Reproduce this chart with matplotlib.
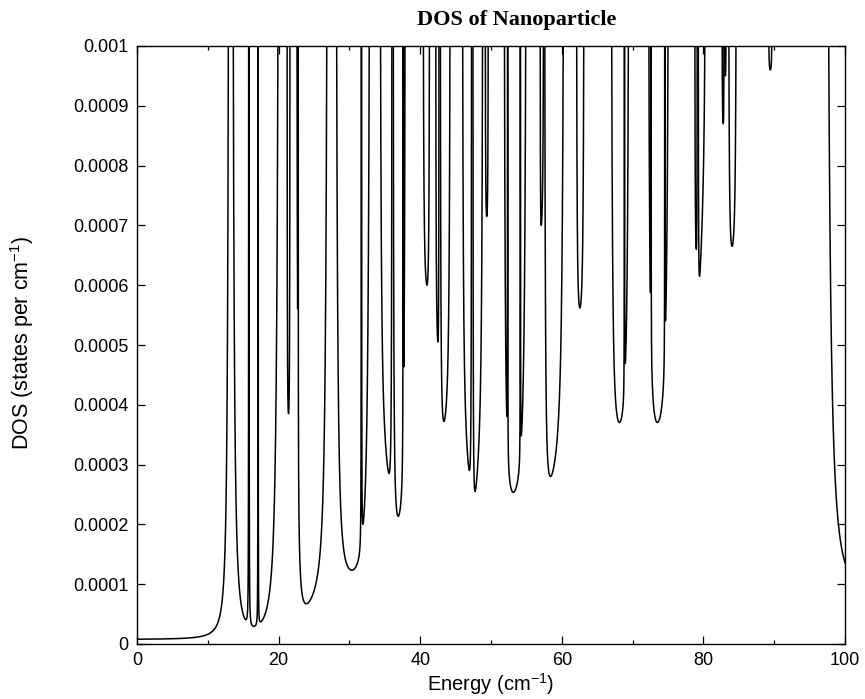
import numpy as np
import matplotlib
matplotlib.use('Agg')
import matplotlib.pyplot as plt

plt.rcParams['font.family'] = ['Liberation Sans', 'DejaVu Sans']
plt.rcParams['mathtext.default'] = 'regular'

# ---------------- data ----------------
TOP = 0.001                       # upper limit of the plot (curve is clipped there)
# each dip of the DOS below the 0.001 line: left crossing, position of minimum, minimum value, right crossing
well_left  = [13.6, 21.2, 22.6, 28.2, 34.4, 36.2, 40.45, 42.2, 42.85, 46.0, 47.45, 49.2, 51.9,
              56.95, 57.6, 62.1, 67.05, 72.3, 78.8, 79.28, 82.65, 83.02, 83.6, 89.25]
well_min   = [16.4, 21.4, 23.9, 30.35, 35.6, 36.9, 40.95, 42.5, 43.35, 46.95, 47.75, 49.4, 53.15,
              57.1, 58.4, 62.55, 68.15, 73.5, 79.0, 79.45, 82.8, 83.1, 84.05, 89.45]
well_floor = [2.7e-5, 3.85e-4, 6.7e-5, 1.23e-4, 2.85e-4, 2.13e-4, 6.0e-4, 5.05e-4, 3.72e-4, 2.9e-4,
              2.55e-4, 7.15e-4, 2.53e-4, 7.0e-4, 2.8e-4, 5.62e-4, 3.7e-4, 3.7e-4, 6.6e-4, 6.15e-4,
              8.7e-4, 9.5e-4, 6.65e-4, 9.6e-4]
well_right = [19.9, 21.6, 26.8, 32.8, 36.0, 37.85, 41.3, 42.65, 44.2, 47.25, 48.8, 49.6, 54.9,
              57.4, 60.2, 63.1, 69.4, 75.0, 79.12, 80.2, 82.9, 83.18, 84.6, 89.65]
# low-energy onset: value at E=0 and energy where the DOS reaches 0.001
onset_value, onset_cross = 8e-6, 12.9
# high-energy end: energy where the DOS falls below 0.001 and value at E=100
end_cross, end_value = 97.7, 1.36e-4
# very narrow modes visible as thin vertical lines: position and integrated weight
spike_E = [15.8, 17.1, 22.75, 31.7, 37.6, 52.35, 54.15, 68.85, 72.6, 74.55]
spike_w = [8e-7, 3e-7, 3e-7, 6e-7, 3e-7, 2e-7, 2e-7, 2e-7, 2e-7, 2e-7]

x_ticks = [0, 20, 40, 60, 80, 100]
x_minor = [10, 30, 50, 70, 90]
y_ticks = [0, 0.0001, 0.0002, 0.0003, 0.0004, 0.0005, 0.0006, 0.0007, 0.0008, 0.0009, 0.001]
y_ticklabels = ['0', '0.0001', '0.0002', '0.0003', '0.0004', '0.0005', '0.0006', '0.0007',
                '0.0008', '0.0009', '0.001']

# ---------------- curve construction (Lorentzian-tail shaped wells) ----------------
E = np.arange(0.0, 100.0005, 0.001)
SG = 0.004


def spikes(x):
    out = np.zeros_like(x)
    for c, w in zip(spike_E, spike_w):
        out += w / ((x - c) ** 2 + SG ** 2)
    return out


def well_curve(a, m, f, b):
    fr = f / TOP
    k = 0.12 + 0.4 * fr
    cL = a - k * (m - a)
    cR = b + k * (b - m)

    def TL(x):
        return 1 / (x - cL) ** 2 - 1 / (m - cL) ** 2 + 2 * (x - m) / (m - cL) ** 3

    def TR(x):
        return 1 / (cR - x) ** 2 - 1 / (cR - m) ** 2 - 2 * (x - m) / (cR - m) ** 3

    M = np.array([[TL(a), TR(a)], [TL(b), TR(b)]])
    KL, KR = np.maximum(np.linalg.solve(M, [1 - fr, 1 - fr]), 0)
    lo = cL + 0.3 * (a - cL)
    hi = cR - 0.3 * (cR - b)
    x = E[(E > lo) & (E < hi)]
    return x, (fr + KL * TL(x) + KR * TR(x)) * TOP + spikes(x)


segments = []
# onset
d0 = 0.3
cR0 = onset_cross + d0
K0 = (1 - onset_value / TOP) / (1 / d0 ** 2 - 1 / cR0 ** 2)
x = E[E < cR0 - 0.3 * d0]
segments.append((x, onset_value + K0 * (1 / (cR0 - x) ** 2 - 1 / cR0 ** 2) * TOP))
# wells
for a, m, f, b in zip(well_left, well_min, well_floor, well_right):
    segments.append(well_curve(a, m, f, b))
# high-energy end
d1 = 0.8
cL1 = end_cross - d1
K1 = (1 - end_value / TOP) / (1 / d1 ** 2 - 1 / (100 - cL1) ** 2)
x = E[E > cL1 + 0.3 * d1]
segments.append((x, end_value + K1 * (1 / (x - cL1) ** 2 - 1 / (100 - cL1) ** 2) * TOP))

# ---------------- figure ----------------
W, H = 865, 699
fig = plt.figure(figsize=(W / 100, H / 100), dpi=100)
ax = fig.add_axes([137 / W, 1 - 644 / H, (845 - 137) / W, (644 - 46) / H])
for x, y in segments:
    ax.plot(x, y, color='black', lw=1.1)

ax.set_xlim(0, 100)
ax.set_ylim(0, TOP)
ax.set_xticks(x_ticks)
ax.set_xticks(x_minor, minor=True)
ax.set_yticks(y_ticks)
ax.set_yticklabels(y_ticklabels)
ax.tick_params(which='major', direction='in', top=True, right=True, length=6, width=0.9,
               labelsize=13, pad=6)
ax.tick_params(which='minor', direction='in', top=True, right=True, length=3, width=0.9)
for sp in ax.spines.values():
    sp.set_linewidth(1.0)

fig.text(517 / W, 1 - 20 / H, 'DOS of Nanoparticle', family=['Liberation Serif', 'DejaVu Serif'],
         fontweight='bold', fontsize=16, ha='center', va='center')
fig.text(491 / W, 1 - 684 / H, 'Energy (cm$^{-1}$)', fontsize=14.5, ha='center', va='center')
fig.text(22 / W, 1 - 343 / H, 'DOS (states per cm$^{-1}$)', fontsize=15.5, ha='center', va='center',
         rotation=90)

fig.savefig('out.png', dpi=100)
